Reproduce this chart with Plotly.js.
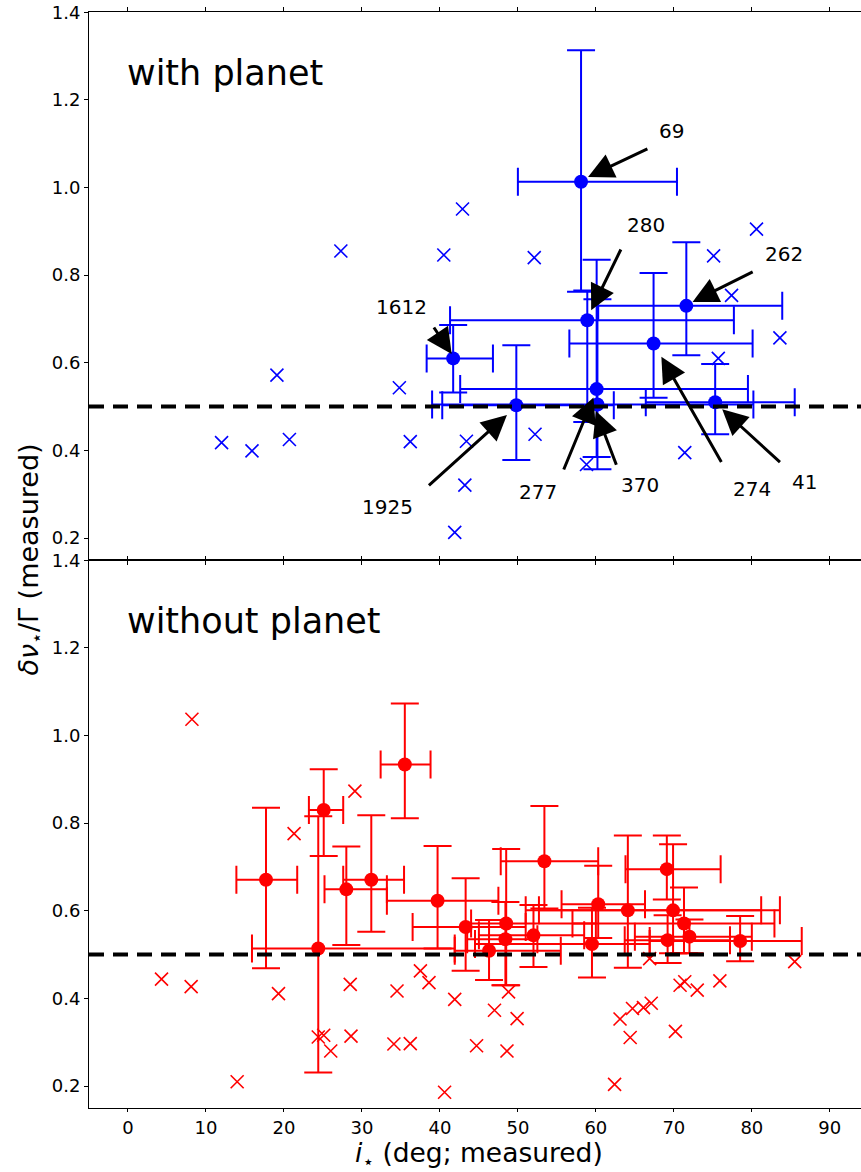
<!DOCTYPE html>
<html><head><meta charset="utf-8">
<script src="https://cdn.plot.ly/plotly-3.0.1.min.js"></script>
<style>html,body{margin:0;padding:0;background:#fff}</style>
</head><body>
<div id="chart" style="width:861px;height:1172px"></div>
<script>
// ---------- WITH PLANET (top panel) ----------
// points without error bars (crosses)
const wpCrossX = [12.0, 15.9, 20.7, 19.1, 27.3, 34.8, 36.2, 40.5, 42.9, 43.4, 43.2, 41.9, 52.1, 52.2, 58.8, 71.4, 75.1, 77.4, 75.7, 80.6, 83.6];
const wpCrossY = [0.418, 0.399, 0.425, 0.572, 0.855, 0.543, 0.420, 0.846, 0.951, 0.421, 0.321, 0.213, 0.840, 0.437, 0.368, 0.395, 0.844, 0.754, 0.610, 0.905, 0.657];
// points with error bars
const wpX    = [58.1, 58.9, 71.6, 67.4, 41.7, 49.8, 60.1, 60.2, 75.3];
const wpY    = [1.013, 0.697, 0.730, 0.644, 0.610, 0.503, 0.540, 0.505, 0.510];
const wpXLo  = [50.0, 41.3, 60.3, 56.6, 38.3, 40.3, 42.6, 39.0, 66.4];
const wpXHi  = [70.4, 77.7, 83.9, 80.1, 46.8, 62.3, 79.5, 80.2, 85.5];
const wpYLo  = [0.762, 0.465, 0.617, 0.520, 0.532, 0.378, 0.385, 0.357, 0.437];
const wpYHi  = [1.313, 0.765, 0.875, 0.805, 0.686, 0.640, 0.835, 0.745, 0.597];
// annotation labels (arrow tip, arrow tail, label position)
const annLabels = ['69', '280', '262', '1612', '1925', '277', '370', '274', '41'];
const annTipX   = [59.0, 59.4, 72.4, 41.5, 48.6, 59.7, 60.0, 68.4, 76.2];
const annTipY   = [1.024, 0.720, 0.739, 0.620, 0.481, 0.521, 0.490, 0.614, 0.494];
const annTailX  = [66.8, 63.3, 80.3, 39.1, 38.4, 55.8, 62.7, 76.2, 83.8];
const annTailY  = [1.090, 0.862, 0.809, 0.684, 0.317, 0.353, 0.364, 0.370, 0.370];
const annTextX  = [69.7, 66.4, 84.1, 35.1, 33.3, 52.6, 65.6, 80.0, 86.8];
const annTextY  = [1.128, 0.914, 0.848, 0.727, 0.271, 0.306, 0.321, 0.311, 0.327];

// ---------- WITHOUT PLANET (bottom panel) ----------
const npCrossX = [4.3, 8.1, 8.2, 14.0, 19.3, 21.3, 24.4, 25.1, 26.0, 28.5, 28.6, 29.1, 34.1, 34.5, 36.2, 37.5, 38.6, 40.6, 41.9, 44.7, 47.0, 48.6, 48.8, 49.9, 62.4, 63.1, 64.4, 64.7, 66.1, 66.9, 67.1, 70.2, 70.8, 71.4, 73.0, 75.9, 85.5];
const npCrossY = [0.444, 0.427, 1.037, 0.210, 0.411, 0.776, 0.312, 0.316, 0.280, 0.432, 0.314, 0.873, 0.296, 0.417, 0.297, 0.463, 0.436, 0.186, 0.398, 0.292, 0.373, 0.280, 0.415, 0.354, 0.204, 0.353, 0.311, 0.377, 0.379, 0.491, 0.389, 0.325, 0.430, 0.438, 0.419, 0.440, 0.484];
const npX   = [35.5, 25.1, 17.7, 28.0, 31.2, 24.4, 39.7, 43.3, 46.3, 48.5, 48.4, 52.0, 53.4, 60.3, 59.5, 64.1, 69.1, 69.9, 71.3, 69.2, 72.0, 78.5];
const npY   = [0.934, 0.830, 0.671, 0.649, 0.671, 0.514, 0.623, 0.563, 0.509, 0.571, 0.535, 0.544, 0.713, 0.615, 0.524, 0.601, 0.695, 0.601, 0.571, 0.533, 0.541, 0.531];
const npXLo = [32.4, 23.2, 13.9, 25.2, 27.6, 15.9, 33.2, 36.5, 41.9, 44.0, 43.5, 45.0, 47.8, 55.6, 44.5, 51.0, 63.8, 52.7, 57.0, 63.7, 65.0, 66.9];
const npXHi = [38.8, 27.6, 21.7, 33.2, 35.4, 41.9, 47.5, 51.0, 55.5, 60.0, 52.5, 58.5, 60.3, 66.3, 66.9, 81.2, 76.0, 83.6, 82.9, 77.2, 80.0, 86.4];
const npYLo = [0.811, 0.725, 0.469, 0.522, 0.552, 0.231, 0.514, 0.463, 0.442, 0.430, 0.430, 0.472, 0.605, 0.538, 0.448, 0.470, 0.626, 0.503, 0.503, 0.481, 0.503, 0.485];
const npYHi = [1.073, 0.923, 0.835, 0.747, 0.818, 0.816, 0.748, 0.674, 0.579, 0.741, 0.620, 0.613, 0.839, 0.703, 0.607, 0.772, 0.772, 0.752, 0.653, 0.590, 0.580, 0.588];

const refLevel = 0.5;
const xTicks = [0, 10, 20, 30, 40, 50, 60, 70, 80, 90];
const yTicks = [0.2, 0.4, 0.6, 0.8, 1.0, 1.2, 1.4];
const yTickText = ['0.2', '0.4', '0.6', '0.8', '1.0', '1.2', '1.4'];

const FONT = 'DejaVu Sans, Verdana, sans-serif';
const BLUE = '#0000ff', RED = '#ff0000';

function errs(v, lo, hi) {
  return {plus: hi.map((h, i) => h - v[i]), minus: lo.map((l, i) => v[i] - l)};
}
function filledTrace(x, y, xlo, xhi, ylo, yhi, color, xa, ya) {
  const ex = errs(x, xlo, xhi), ey = errs(y, ylo, yhi);
  return {
    type: 'scatter', mode: 'markers', x: x, y: y, xaxis: xa, yaxis: ya,
    marker: {size: 14, color: color},
    error_x: {type: 'data', symmetric: false, array: ex.plus, arrayminus: ex.minus, color: color, thickness: 2, width: 14},
    error_y: {type: 'data', symmetric: false, array: ey.plus, arrayminus: ey.minus, color: color, thickness: 2, width: 14},
    hoverinfo: 'skip', showlegend: false
  };
}
function crossTrace(x, y, color, xa, ya) {
  return {
    type: 'scatter', mode: 'markers', x: x, y: y, xaxis: xa, yaxis: ya,
    marker: {symbol: 'x-thin', size: 13, color: color, line: {width: 1.6, color: color}},
    hoverinfo: 'skip', showlegend: false
  };
}

const data = [
  crossTrace(wpCrossX, wpCrossY, BLUE, 'x2', 'y2'),
  filledTrace(wpX, wpY, wpXLo, wpXHi, wpYLo, wpYHi, BLUE, 'x2', 'y2'),
  crossTrace(npCrossX, npCrossY, RED, 'x', 'y'),
  filledTrace(npX, npY, npXLo, npXHi, npYLo, npYHi, RED, 'x', 'y')
];

const axisCommon = {
  showline: true, linecolor: '#000', linewidth: 1, mirror: 'ticks',
  ticks: 'outside', ticklen: 4, tickwidth: 1, tickcolor: '#000',
  showgrid: false, zeroline: false,
  tickfont: {family: FONT, size: 18, color: '#000'}
};

const annotations = [];
annLabels.forEach((lab, i) => {
  annotations.push({
    xref: 'x2', yref: 'y2', axref: 'x2', ayref: 'y2',
    x: annTipX[i], y: annTipY[i], ax: annTailX[i], ay: annTailY[i],
    text: '', showarrow: true, arrowhead: 2, arrowsize: 1.7, arrowwidth: 3,
    arrowcolor: '#000', standoff: 0, startstandoff: 0
  });
  annotations.push({
    xref: 'x2', yref: 'y2', x: annTextX[i], y: annTextY[i], text: lab,
    showarrow: false, xanchor: 'center', yanchor: 'middle',
    font: {family: FONT, size: 20, color: '#000'}
  });
});
annotations.push({
  xref: 'x2', yref: 'y2', x: -0.35, y: 1.262, text: 'with planet', showarrow: false,
  xanchor: 'left', yanchor: 'middle', font: {family: FONT, size: 35, color: '#000'}
});
annotations.push({
  xref: 'x', yref: 'y', x: -0.35, y: 1.262, text: 'without planet', showarrow: false,
  xanchor: 'left', yanchor: 'middle', font: {family: FONT, size: 35, color: '#000'}
});
annotations.push({
  xref: 'paper', yref: 'paper', x: -0.077, y: 0.5, textangle: -90,
  text: '<i>δν</i><sub>⋆</sub>/Γ (measured)', showarrow: false,
  xanchor: 'center', yanchor: 'middle', font: {family: FONT, size: 27, color: '#000'}
});
annotations.push({
  xref: 'paper', yref: 'paper', x: 0.505, y: -0.0425,
  text: '<i>i</i><sub>⋆</sub> (deg; measured)', showarrow: false,
  xanchor: 'center', yanchor: 'middle', font: {family: FONT, size: 26.5, color: '#000'}
});

const dashLine = (xd, ya) => ({
  type: 'line', xref: xd, x0: 0, x1: 1, yref: ya, y0: refLevel, y1: refLevel,
  line: {color: '#000', width: 4, dash: '15px,9px'}, layer: 'above'
});

const layout = {
  width: 861, height: 1172,
  margin: {l: 89, r: 0, t: 12, b: 64},
  paper_bgcolor: '#fff', plot_bgcolor: '#fff',
  showlegend: false,
  font: {family: FONT, color: '#000'},
  xaxis: Object.assign({}, axisCommon, {domain: [0, 1], range: [-5, 94], anchor: 'y', ticklen: 3, tickvals: xTicks, ticktext: xTicks.map(String)}),
  xaxis2: Object.assign({}, axisCommon, {domain: [0, 1], range: [-5, 94], anchor: 'y2', matches: 'x', tickvals: xTicks, showticklabels: false}),
  yaxis: Object.assign({}, axisCommon, {domain: [0, 0.5], range: [0.15, 1.4005], anchor: 'x', tickvals: yTicks, ticktext: yTickText}),
  yaxis2: Object.assign({}, axisCommon, {domain: [0.5, 1], range: [0.15, 1.4005], anchor: 'x2', tickvals: yTicks, ticktext: yTickText}),
  shapes: [dashLine('x2 domain', 'y2'), dashLine('x domain', 'y')],
  annotations: annotations
};

Plotly.newPlot('chart', data, layout, {staticPlot: true, displayModeBar: false});
</script>
</body></html>
